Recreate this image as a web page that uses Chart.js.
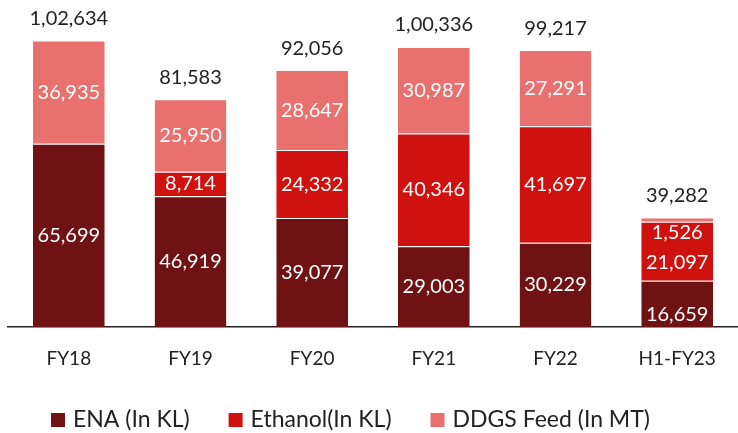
<!DOCTYPE html>
<html>
<head>
<meta charset="utf-8">
<script src="https://cdn.jsdelivr.net/npm/chart.js@4"></script>
<style>
  html, body { margin: 0; padding: 0; background: #fff; }
  #wrap { width: 738px; height: 433px; }
</style>
</head>
<body>
<div id="wrap"><canvas id="prodChart" width="738" height="433"></canvas></div>
<script>
const years = ["FY18", "FY19", "FY20", "FY21", "FY22", "H1-FY23"];
const ena = [65699, 46919, 39077, 29003, 30229, 16659];
const ethanol = [0, 8714, 24332, 40346, 41697, 21097];
const ddgs = [36935, 25950, 28647, 30987, 27291, 1526];
const totals = [102634, 81583, 92056, 100336, 99217, 39282];

const fmt = v => v.toLocaleString("en-IN");
const FONT = "Lato, 'Open Sans', sans-serif";

// white numbers inside the segments + dark totals on top
const labelPlugin = {
  id: "labels",
  afterDatasetsDraw(chart) {
    const ctx = chart.ctx;
    ctx.save();
    ctx.font = "20px " + FONT;
    ctx.textAlign = "center";
    ctx.textBaseline = "middle";
    years.forEach((y, i) => {
      let push = 0;
      for (let d = chart.data.datasets.length - 1; d >= 0; d--) {
        const v = chart.data.datasets[d].data[i];
        if (!v) continue;
        const bar = chart.getDatasetMeta(d).data[i];
        const h = bar.base - bar.y;
        let cy = (bar.y + bar.base) / 2 + push;
        if (h < 20) { cy = bar.base + 11; push = 11; }
        ctx.fillStyle = "#fff";
        ctx.fillText(fmt(v), bar.x, cy);
      }
      const top = chart.getDatasetMeta(2).data[i];
      ctx.fillStyle = "#222";
      ctx.fillText(fmt(totals[i]), top.x, top.y - 22);
    });
    ctx.restore();
  }
};

// legend drawn by hand so spacing matches the slide
const legendPlugin = {
  id: "legendRow",
  afterDraw(chart) {
    const ctx = chart.ctx;
    ctx.save();
    ctx.font = "23px " + FONT;
    ctx.textBaseline = "middle";
    let x = 51;
    const cy = 420;
    chart.data.datasets.forEach(ds => {
      ctx.fillStyle = ds.backgroundColor;
      ctx.fillRect(x, cy - 7, 14, 14);
      ctx.fillStyle = "#222";
      ctx.fillText(ds.label, x + 22, cy);
      x += 22 + ctx.measureText(ds.label).width + 39;
    });
    ctx.restore();
  }
};

new Chart(document.getElementById("prodChart"), {
  type: "bar",
  data: {
    labels: years,
    datasets: [
      { label: "ENA (In KL)", data: ena, backgroundColor: "#6E1214" },
      { label: "Ethanol(In KL)", data: ethanol, backgroundColor: "#CF1210" },
      { label: "DDGS Feed (In MT)", data: ddgs, backgroundColor: "#E87170" }
    ]
  },
  options: {
    responsive: false,
    animation: false,
    layout: { padding: { top: 20, left: 8, right: 0, bottom: 51 } },
    datasets: {
      bar: {
        categoryPercentage: 1,
        barPercentage: 0.59,
        borderColor: "rgba(255,255,255,0.5)",
        borderWidth: { top: 1 },
        borderSkipped: false
      }
    },
    scales: {
      x: {
        stacked: true,
        grid: { display: false },
        border: { display: true, color: "#222", width: 1.5 },
        ticks: { color: "#222", font: { family: FONT, size: 19 }, padding: 12 }
      },
      y: {
        stacked: true,
        display: false,
        min: 0,
        max: 110000
      }
    },
    plugins: {
      tooltip: { enabled: false },
      legend: { display: false }
    }
  },
  plugins: [labelPlugin, legendPlugin]
});
</script>
</body>
</html>
